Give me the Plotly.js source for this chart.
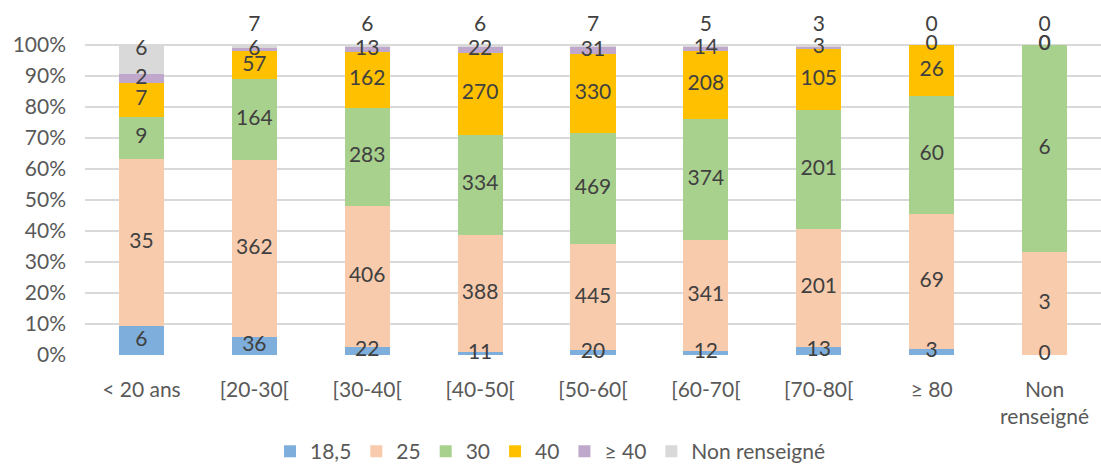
<!DOCTYPE html>
<html>
<head>
<meta charset="utf-8">
<script src="https://cdn.plot.ly/plotly-3.0.1.min.js"></script>
<style>html,body{margin:0;padding:0;background:#fff;}#chart{width:1101px;height:468px;}</style>
</head>
<body>
<div id="chart"></div>
<script>
const categories = ["< 20 ans", "[20-30[", "[30-40[", "[40-50[", "[50-60[", "[60-70[", "[70-80[", "≥ 80", "Non<br>renseigné"];
const seriesNames = ["18,5", "25", "30", "40", "≥ 40", "Non renseigné"];
const s185 = [6, 36, 22, 11, 20, 12, 13, 3, 0];
const s25 = [35, 362, 406, 388, 445, 341, 201, 69, 3];
const s30 = [9, 164, 283, 334, 469, 374, 201, 60, 6];
const s40 = [7, 57, 162, 270, 330, 208, 105, 26, 0];
const sGe40 = [2, 6, 13, 22, 31, 14, 3, 0, 0];
const sNR = [6, 7, 6, 6, 7, 5, 3, 0, 0];
const colors = ["#7EAEDB", "#F8CBAD", "#A9D18E", "#FFC000", "#BFA8CC", "#D9D9D9"];

const series = [s185, s25, s30, s40, sGe40, sNR];
const totals = categories.map((c, i) => series.reduce((a, s) => a + s[i], 0));
const FONT = "Lato, 'Open Sans', sans-serif";

const traces = [];
series.forEach((s, k) => {
  traces.push({
    type: "bar",
    name: seriesNames[k],
    x: categories,
    y: s.map((v, i) => v / totals[i]),
    marker: {color: colors[k], line: {width: 0}},
    hoverinfo: "skip"
  });
});

// data labels
const lx = [], ly = [], lt = [];
const cum = categories.map(() => 0);
series.forEach((s, k) => {
  s.forEach((v, i) => {
    const f = v / totals[i];
    let y = cum[i] + f / 2;
    if (k === series.length - 1) {
      y = f > 0.05 ? 1 - 0.016 : 1.062;
    }
    cum[i] += f;
    lx.push(categories[i]); ly.push(y); lt.push(String(v));
  });
});
traces.push({
  type: "scatter", mode: "text", x: lx, y: ly, text: lt,
  textposition: "middle center",
  textfont: {family: FONT, size: 21, color: "#404040"},
  showlegend: false, hoverinfo: "skip", cliponaxis: false
});

const layout = {
  width: 1101, height: 468,
  margin: {l: 85, r: 0, t: 14, b: 113},
  barmode: "stack",
  bargap: 0.6,
  paper_bgcolor: "#fff", plot_bgcolor: "#fff",
  font: {family: FONT, size: 20, color: "#595959"},
  showlegend: true,
  legend: {
    orientation: "h", xref: "container", yref: "container",
    x: 0.5, xanchor: "center", y: 0.035, yanchor: "middle",
    font: {family: FONT, size: 21, color: "#595959"},
    traceorder: "normal", itemwidth: 30
  },
  xaxis: {
    type: "category", showgrid: false, zeroline: false, showline: false,
    ticks: "", ticklabelstandoff: 20,
    tickfont: {family: FONT, size: 21, color: "#595959"}
  },
  yaxis: {
    range: [0, 1.1], tickvals: [0,0.1,0.2,0.3,0.4,0.5,0.6,0.7,0.8,0.9,1], tickformat: ".0%",
    showgrid: true, gridcolor: "#D9D9D9", gridwidth: 1.5,
    zeroline: false, showline: false, ticks: "", ticklabelstandoff: 18,
    tickfont: {family: FONT, size: 21, color: "#595959"}
  }
};
Plotly.newPlot("chart", traces, layout, {displayModeBar: false, staticPlot: true});
</script>
</body>
</html>
